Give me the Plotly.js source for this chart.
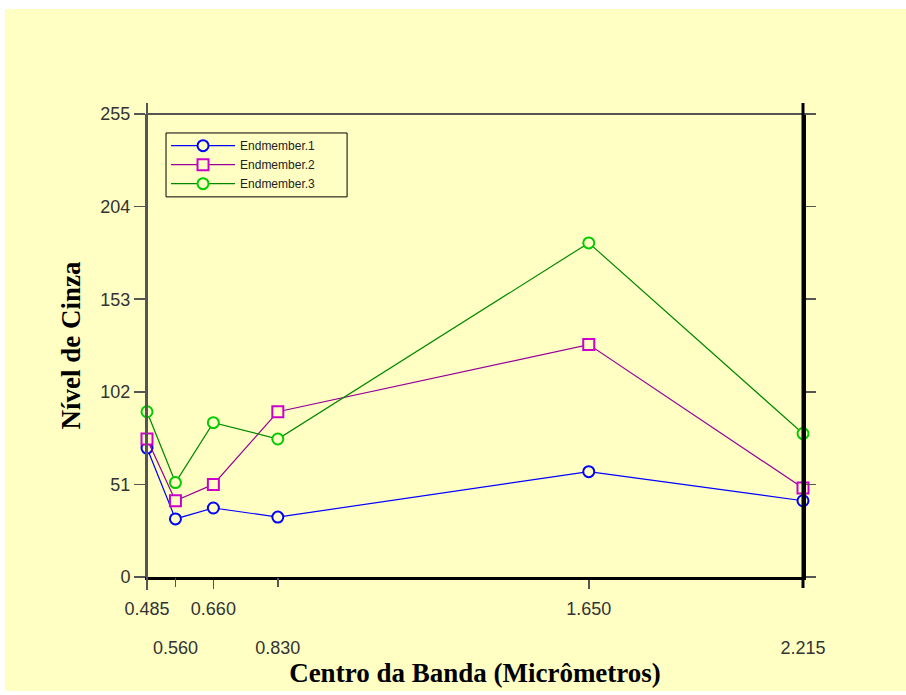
<!DOCTYPE html>
<html>
<head>
<meta charset="utf-8">
<script src="https://cdn.plot.ly/plotly-3.0.1.min.js"></script>
<style>html,body{margin:0;padding:0;background:#fff;}#chart{width:906px;height:695px;}</style>
</head>
<body>
<div id="chart"></div>
<script>
// Data
const bands = [0.485, 0.560, 0.660, 0.830, 1.650, 2.215];
const endmember1 = [71, 32, 38, 33, 58, 42];
const endmember2 = [76, 42, 51, 91, 128, 49];
const endmember3 = [91, 52, 85, 76, 184, 79];
const seriesNames = ['Endmember.1', 'Endmember.2', 'Endmember.3'];
const yTicks = [0, 51, 102, 153, 204, 255];
const xTicksRow1 = [0.485, 0.660, 1.650];
const xTicksRow2 = [0.560, 0.830, 2.215];
const xTitle = 'Centro da Banda (Micrômetros)';
const yTitle = 'Nível de Cinza';

const BG = '#FFFFC4';
const tickFont = {family: '"Liberation Sans", Arial, sans-serif', size: 18, color: '#333333'};
const titleFont = {family: '"Liberation Serif", "Times New Roman", serif', size: 27, color: '#000000', weight: 'bold'};

function tr(y, name, lineColor, markerColor, symbol) {
  return {
    x: bands, y: y, name: name, type: 'scatter', mode: 'lines+markers',
    cliponaxis: false,
    line: {color: lineColor, width: 1.2},
    marker: {symbol: symbol, size: 11, color: BG, line: {color: markerColor, width: 2}}
  };
}

const data = [
  tr(endmember1, seriesNames[0], '#0000FF', '#0000FF', 'circle'),
  tr(endmember2, seriesNames[1], '#990099', '#CC00CC', 'square'),
  tr(endmember3, seriesNames[2], '#008800', '#00CC00', 'circle')
];

const layout = {
  width: 906, height: 695,
  margin: {l: 147, r: 103, t: 114, b: 118},
  paper_bgcolor: '#FFFFFF',
  plot_bgcolor: 'rgba(0,0,0,0)',
  showlegend: true,
  legend: {
    x: 0.029, y: 0.963, xanchor: 'left', yanchor: 'top',
    bgcolor: 'rgba(0,0,0,0)', borderwidth: 0,
    font: {family: '"Liberation Sans", Arial, sans-serif', size: 12, color: '#222222'},
    itemwidth: 64, tracegroupgap: 0
  },
  xaxis: {
    range: [0.485, 2.215], tickvals: xTicksRow1, ticktext: xTicksRow1.map(v => v.toFixed(3)),
    showgrid: false, zeroline: false,
    showline: true, linecolor: '#000000', linewidth: 3,
    ticks: 'outside', ticklen: 9, tickwidth: 1.5, tickcolor: '#555555',
    tickfont: tickFont, ticklabelstandoff: 4
  },
  xaxis2: {
    overlaying: 'x', anchor: 'y', side: 'bottom',
    range: [0.485, 2.215], tickvals: xTicksRow2, ticktext: xTicksRow2.map(v => v.toFixed(3)),
    showgrid: false, zeroline: false, showline: false,
    ticks: 'outside', ticklen: 9, tickwidth: 1.5, tickcolor: '#555555',
    tickfont: tickFont, ticklabelstandoff: 45,
    title: {text: xTitle, font: titleFont, standoff: 6}
  },
  yaxis: {
    range: [0, 255], tickvals: yTicks,
    showgrid: false, zeroline: false,
    showline: true, linecolor: '#555555', linewidth: 2,
    ticks: 'outside', ticklen: 11, tickwidth: 1.5, tickcolor: '#555555',
    tickfont: tickFont,
    title: {text: yTitle, font: titleFont, standoff: 12}
  },
  yaxis2: {
    overlaying: 'y', side: 'right', anchor: 'x',
    range: [0, 255], tickvals: yTicks, showticklabels: false,
    showgrid: false, zeroline: false,
    showline: true, linecolor: '#000000', linewidth: 3,
    ticks: 'outside', ticklen: 10, tickwidth: 1.5, tickcolor: '#555555'
  },
  shapes: [
    {type: 'rect', xref: 'paper', yref: 'paper', x0: -0.2165, x1: 1.16, y0: -0.246, y1: 1.2268,
     fillcolor: BG, line: {width: 0}, layer: 'below'},
    // legend frame
    {type: 'rect', xref: 'paper', yref: 'paper', x0: 0.029, x1: 0.305, y0: 0.821, y1: 0.959,
     fillcolor: BG, line: {color: '#000000', width: 1}, layer: 'below'},
    {type: 'line', xref: 'paper', yref: 'paper', x0: 0, x1: 1.015, y0: 1, y1: 1,
     line: {color: '#555555', width: 2}},
    {type: 'line', xref: 'paper', yref: 'paper', x0: 0, x1: 0, y0: -0.028, y1: 1.024,
     line: {color: '#555555', width: 2}},
    {type: 'line', xref: 'paper', yref: 'paper', x0: 1, x1: 1, y0: -0.024, y1: 1.024,
     line: {color: '#000000', width: 3}}
  ]
};

// dummy traces to activate the secondary axes
data.push({x: [], y: [], xaxis: 'x2', yaxis: 'y', showlegend: false, hoverinfo: 'skip', type: 'scatter'});
data.push({x: [], y: [], xaxis: 'x', yaxis: 'y2', showlegend: false, hoverinfo: 'skip', type: 'scatter'});

Plotly.newPlot('chart', data, layout, {displayModeBar: false, staticPlot: true});
</script>
</body>
</html>
